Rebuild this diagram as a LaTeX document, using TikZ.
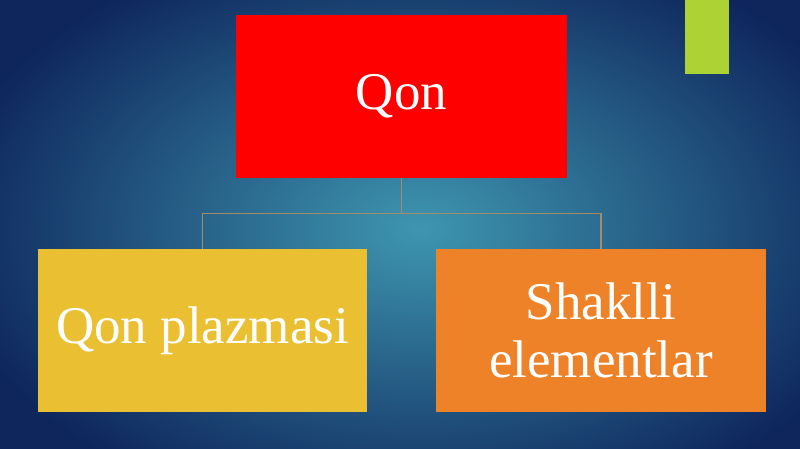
\documentclass[tikz,border=0pt]{standalone}
\usepackage{fontspec}
\setmainfont{Liberation Serif}
\usepackage{xcolor}
\usetikzlibrary{calc}
\definecolor{bginner}{RGB}{62,150,176}
\definecolor{bgouter}{RGB}{14,38,92}
\definecolor{rootred}{RGB}{255,0,0}
\definecolor{leafyellow}{RGB}{234,192,50}
\definecolor{leaforange}{RGB}{238,130,40}
\definecolor{markgreen}{RGB}{172,210,52}
\definecolor{linktan}{RGB}{165,140,105}
\tikzset{
  box/.style={minimum width=331pt, minimum height=163pt, inner sep=0pt,
    text=white, align=center, font=\fontsize{53}{58}\selectfont},
  link/.style={linktan, line width=1.2pt}
}
\begin{document}
\begin{tikzpicture}[x=1pt, y=1pt]
  \useasboundingbox (0,0) rectangle (800,449);
  \shade[inner color=bginner, outer color=bgouter] (-60,-80) rectangle (900,520);
  \fill[markgreen] (685,375) rectangle (729,449);
  \node[box, fill=rootred] (qon) at (401.5,352.5) {Qon};
  \node[box, fill=leafyellow, minimum width=329pt] (plazma) at (202.5,118.5) {Qon plazmasi};
  \node[box, fill=leaforange, minimum width=330pt] (shakl) at (601,118.5) {Shaklli\\elementlar};
  \coordinate (split) at ($(qon.south)+(0,-35)$);
  \draw[link] (qon.south) -- (split);
  \draw[link] (split) -| (plazma.north);
  \draw[link] (split) -| (shakl.north);
\end{tikzpicture}
\end{document}
